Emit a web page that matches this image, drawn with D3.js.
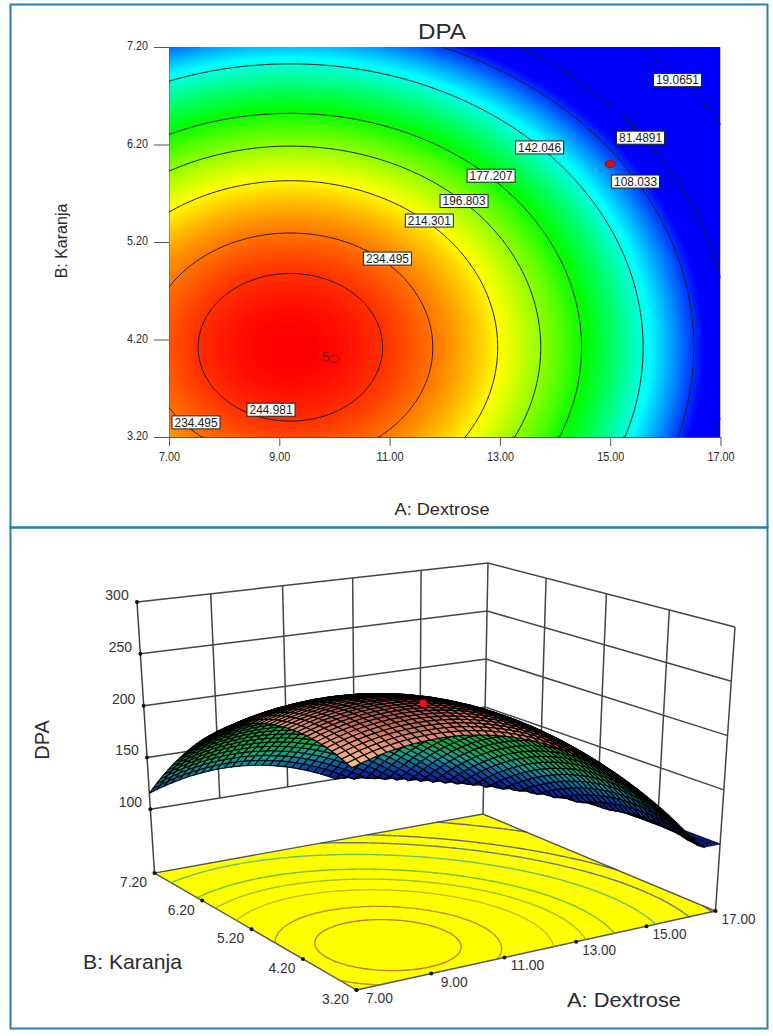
<!DOCTYPE html>
<html><head><meta charset="utf-8">
<script src="https://cdn.jsdelivr.net/npm/d3@7"></script>
<style>html,body{margin:0;padding:0;background:#fff}svg{display:block}
text{font-family:"Liberation Sans",Arial,sans-serif;fill:#2b2b2b}</style>
</head><body><script>
// ---- data ----
const dextroseTicks = [7, 9, 11, 13, 15, 17];
const karanjaTicks = [3.2, 4.2, 5.2, 6.2, 7.2];
const dpaTicks = [100, 150, 200, 250, 300];
// DPA response read at each (Dextrose, Karanja) tick crossing
const dpaAtKaranja320 = [228.4, 241.3, 232.7, 202.5, 150.6, 77.2];
const dpaAtKaranja420 = [239.4, 252.3, 243.7, 213.4, 161.6, 88.2];
const dpaAtKaranja520 = [224.2, 237.1, 228.5, 198.3, 146.4, 73.0];
const dpaAtKaranja620 = [182.9, 195.8, 187.2, 157.0, 105.1, 31.7];
const dpaAtKaranja720 = [115.4, 128.4, 119.8, 89.5, 37.7, -35.8];
const contourLevels = [19.0651, 81.4891, 108.033, 142.046, 177.207, 196.803, 214.301, 234.495, 244.981];
const contourLabels = ["19.0651", "81.4891", "108.033", "142.046", "177.207", "196.803", "214.301", "234.495", "244.981", "234.495"];
const labelDextrose = [16.22, 15.55, 15.46, 13.72, 12.84, 12.35, 11.72, 10.96, 8.85, 7.49];
const labelKaranja = [6.86, 6.27, 5.82, 6.17, 5.88, 5.62, 5.42, 5.03, 3.48, 3.35];
const designDextrose = [15, 10];
const designKaranja = [6, 4];
const designRuns = [1, 5];
const surfacePointZ = 252;

const dpaRows = [dpaAtKaranja320, dpaAtKaranja420, dpaAtKaranja520, dpaAtKaranja620, dpaAtKaranja720];

// ---- interpolation through the tick-crossing readings ----
function cr(p, t) {
  const n = p.length, i = Math.max(0, Math.min(n - 2, Math.floor(t))), s = t - i;
  const g = k => k < 0 ? 3 * p[0] - 3 * p[1] + p[2] : k >= n ? 3 * p[n - 1] - 3 * p[n - 2] + p[n - 3] : p[k];
  const a = g(i - 1), b = g(i), c = g(i + 1), d = g(i + 2);
  return 0.5 * (2 * b + (c - a) * s + (2 * a - 5 * b + 4 * c - d) * s * s + (3 * b - a - 3 * c + d) * s * s * s);
}
const tA = d3.scaleLinear().domain(d3.extent(dextroseTicks)).range([0, dextroseTicks.length - 1]);
const tB = d3.scaleLinear().domain(d3.extent(karanjaTicks)).range([0, karanjaTicks.length - 1]);
function dpa(A, B) {
  const ta = tA(A), tb = tB(B);
  return cr(dpaRows.map(r => cr(r, ta)), tb);
}

const rainbow = d3.scaleLinear().domain([100, 137.5, 175, 213, 252])
  .range(["#0000ff", "#00ffff", "#00ff00", "#ffff00", "#ff0000"]).clamp(true);

const W = 773, H = 1036;
const svg = d3.select("body").append("svg").attr("width", W).attr("height", H);
const defs = svg.append("defs");
defs.append("filter").attr("id", "soft").attr("x", "-5%").attr("y", "-5%").attr("width", "110%").attr("height", "110%")
  .append("feGaussianBlur").attr("stdDeviation", 0.45);
defs.append("filter").attr("id", "soft2").attr("x", "-5%").attr("y", "-5%").attr("width", "110%").attr("height", "110%")
  .append("feGaussianBlur").attr("stdDeviation", 0.3);

// frames
const frameColor = "#2a7fb0";
svg.append("rect").attr("x", 10.5).attr("y", 4.5).attr("width", 757).attr("height", 523)
  .attr("fill", "none").attr("stroke", frameColor).attr("stroke-width", 2);
svg.append("rect").attr("x", 10.5).attr("y", 527.5).attr("width", 757).attr("height", 501)
  .attr("fill", "none").attr("stroke", frameColor).attr("stroke-width", 2);

// common sampled grid
const nx = 221, ny = 161;
const gA = d3.scaleLinear().domain([0, nx - 1]).range(d3.extent(dextroseTicks));
const gB = d3.scaleLinear().domain([0, ny - 1]).range(d3.extent(karanjaTicks));
const gridVals = new Float64Array(nx * ny);
for (let j = 0; j < ny; j++) for (let i = 0; i < nx; i++) gridVals[j * nx + i] = dpa(gA(i), gB(j));
const contourGen = d3.contours().size([nx, ny]).smooth(true);
const toData = ([cx, cy]) => [gA(Math.max(0, Math.min(nx - 1, cx - 0.5))), gB(Math.max(0, Math.min(ny - 1, cy - 0.5)))];
const onBorder = ([x, y]) => x <= 0 || x >= nx || y <= 0 || y >= ny;
function contourLines(level) {   // open polylines in data coordinates, with the border runs removed
  const out = [];
  contourGen.contour(gridVals, level).coordinates.forEach(poly => poly.forEach(ring => {
    let cur = null;
    for (let k = 0; k < ring.length; k++) {
      const p = ring[k], q = ring[(k + 1) % ring.length];
      if (onBorder(p) && onBorder(q)) { cur = null; continue; }
      if (!cur) { cur = [toData(p)]; out.push(cur); }
      cur.push(toData(q));
    }
  }));
  return out;
}

// ================= top panel: contour plot =================
const x2 = d3.scaleLinear().domain(d3.extent(dextroseTicks)).range([169, 720.5]);
const y2 = d3.scaleLinear().domain(d3.extent(karanjaTicks)).range([437, 47]);
const topP = svg.append("g");
defs.append("clipPath").attr("id", "plotClip").append("rect")
  .attr("x", x2.range()[0]).attr("y", y2.range()[1])
  .attr("width", x2.range()[1] - x2.range()[0]).attr("height", y2.range()[0] - y2.range()[1]);
const fillPath = d3.geoPath(d3.geoTransform({
  point(cx, cy) { const [a, b] = toData([cx, cy]); this.stream.point(x2(a), y2(b)); }
}));
const fillLevels = d3.range(100, 254, 0.6);
const heat = topP.append("g").attr("clip-path", "url(#plotClip)");
heat.append("rect").attr("x", x2(7)).attr("y", y2(7.2)).attr("width", x2(17) - x2(7)).attr("height", y2(3.2) - y2(7.2))
  .attr("fill", rainbow(100));
heat.selectAll("path.f").data(fillLevels.map(l => contourGen.contour(gridVals, l))).join("path")
  .attr("class", "f").attr("d", fillPath).attr("fill", d => rainbow(d.value));

const line2 = d3.line().x(d => x2(d[0])).y(d => y2(d[1]));
const lineGroup = topP.append("g").attr("clip-path", "url(#plotClip)").attr("filter", "url(#soft2)");
contourLevels.forEach(l => {
  lineGroup.selectAll(null).data(contourLines(l)).join("path")
    .attr("d", line2).attr("fill", "none").attr("stroke", "#1c1c1c").attr("stroke-width", 1);
});

// axes
const axX = d3.axisBottom(x2).tickValues(dextroseTicks).tickFormat(d3.format(".2f")).tickSize(9).tickPadding(6).tickSizeOuter(0);
const axY = d3.axisLeft(y2).tickValues(karanjaTicks).tickFormat(d3.format(".2f")).tickSize(15).tickPadding(6).tickSizeOuter(0);
const gx = topP.append("g").attr("transform", "translate(0,437)").call(axX);
const gy = topP.append("g").attr("transform", "translate(169,0)").call(axY);
[gx, gy].forEach(g => {
  g.selectAll("text").attr("font-size", 13).attr("fill", "#333")
    .attr("textLength", d => d3.format(".2f")(d).length > 4 ? 27 : 21).attr("lengthAdjust", "spacingAndGlyphs");
  g.selectAll("line").attr("stroke", "#555");
  g.select(".domain").attr("stroke", "#555");
});
gy.select(".domain").attr("stroke-opacity", 0.5);
gy.selectAll("text").attr("dy", "0.2em");

// design points
const dp = topP.append("g");
dp.selectAll("ellipse").data(d3.range(designDextrose.length)).join("ellipse")
  .attr("cx", i => x2(designDextrose[i])).attr("cy", i => y2(designKaranja[i]))
  .attr("rx", 5).attr("ry", 3.5).attr("stroke", "#8a1010").attr("stroke-width", 1)
  .attr("fill", i => designRuns[i] > 1 ? "none" : "#e00c0c");
dp.selectAll("text").data(d3.range(designDextrose.length).filter(i => designRuns[i] > 1)).join("text")
  .attr("x", i => x2(designDextrose[i]) - 5).attr("y", i => y2(designKaranja[i]) + 3).attr("text-anchor", "end")
  .attr("font-size", 14).style("fill", "#7a1414").text(i => designRuns[i]);

// contour labels
const lab = topP.append("g").selectAll("g").data(contourLabels).join("g")
  .attr("transform", (d, i) => `translate(${x2(labelDextrose[i])},${y2(labelKaranja[i])})`);
lab.append("rect").attr("x", -24).attr("y", -6.5).attr("width", 48).attr("height", 13)
  .attr("fill", "#fff").attr("stroke", "#222").attr("stroke-width", 1);
lab.append("text").attr("text-anchor", "middle").attr("y", 4.2).attr("font-size", 12).style("fill", "#222")
  .attr("textLength", 43).attr("lengthAdjust", "spacingAndGlyphs").text(d => d);

// titles
topP.append("text").attr("x", 442).attr("y", 39).attr("text-anchor", "middle").attr("font-size", 22)
  .attr("textLength", 48).attr("lengthAdjust", "spacingAndGlyphs").text("DPA");
topP.append("text").attr("x", 442).attr("y", 515).attr("text-anchor", "middle").attr("font-size", 16)
  .attr("textLength", 95).attr("lengthAdjust", "spacingAndGlyphs").text("A: Dextrose");
topP.append("text").attr("transform", "translate(67,241) rotate(-90)").attr("text-anchor", "middle").attr("font-size", 16).text("B: Karanja");

// ================= bottom panel: 3D surface =================
const bot = svg.append("g");
const uOf = d3.scaleLinear().domain(d3.extent(dextroseTicks)).range([0, 1]);
const vOf = d3.scaleLinear().domain(d3.extent(karanjaTicks)).range([0, 1]);
const wOf = d3.scaleLinear().domain([38.5, 300]).range([0, 1]);

function homography(q) {
  const [[x0, y0], [x1, y1], [x2_, y2_], [x3, y3]] = q;
  const dx1 = x1 - x2_, dx2 = x3 - x2_, sx = x0 - x1 + x2_ - x3;
  const dy1 = y1 - y2_, dy2 = y3 - y2_, sy = y0 - y1 + y2_ - y3;
  const den = dx1 * dy2 - dx2 * dy1;
  const g = (sx * dy2 - dx2 * sy) / den, h = (dx1 * sy - sx * dy1) / den;
  const a = x1 - x0 + g * x1, b = x3 - x0 + h * x3, c = x0;
  const d = y1 - y0 + g * y1, e = y3 - y0 + h * y3, f = y0;
  return (u, v) => { const w = g * u + h * v + 1; return [(a * u + b * v + c) / w, (d * u + e * v + f) / w]; };
}
function blendedView(q) {   // half perspective, half parallel: the picture's ticks are almost evenly spaced
  const hom = homography(q);
  return (u, v) => {
    const p = hom(u, v);
    return [0, 1].map(k => 0.5 * p[k] +
      0.5 * ((1 - u) * (1 - v) * q[0][k] + u * (1 - v) * q[1][k] + u * v * q[2][k] + (1 - u) * v * q[3][k]));
  };
}
// camera frame of the box: front, right, back, left corners of floor and ceiling
const floorH = blendedView([[356.5, 990], [715.5, 911], [483, 814], [154.5, 873]]);
const ceilH = blendedView([[350, 684], [735, 627], [488, 563], [137, 602]]);
function proj(A, B, Z) {
  const u = uOf(A), v = vOf(B), w = wOf(Z);
  const f = floorH(u, v), c = ceilH(u, v);
  return [f[0] + (c[0] - f[0]) * w, f[1] + (c[1] - f[1]) * w];
}
const floorPt = (A, B) => proj(A, B, wOf.domain()[0]);
const seg = d3.line();
const Amin = 7, Amax = 17, Bmin = 3.2, Bmax = 7.2, Ztop = 300, Zfloor = wOf.domain()[0];

// walls
const wallColor = "#444";
const walls = bot.append("g").attr("filter", "url(#soft2)").attr("stroke", wallColor).attr("stroke-width", 1.5).attr("fill", "none");
const wallLines = [];
dpaTicks.forEach(z => wallLines.push([proj(Amin, Bmax, z), proj(Amax, Bmax, z), proj(Amax, Bmin, z)]));
dextroseTicks.slice(1, -1).forEach(a => wallLines.push([proj(a, Bmax, 100), proj(a, Bmax, Ztop)]));
karanjaTicks.slice(1, -1).forEach(b => wallLines.push([proj(Amax, b, 100), proj(Amax, b, Ztop)]));
wallLines.push([proj(Amin, Bmax, Zfloor), proj(Amin, Bmax, Ztop)]);
wallLines.push([proj(Amax, Bmax, Zfloor), proj(Amax, Bmax, Ztop)]);
wallLines.push([proj(Amax, Bmin, Zfloor), proj(Amax, Bmin, Ztop)]);
walls.selectAll("path").data(wallLines).join("path").attr("d", seg);

// floor
bot.append("path").attr("d", seg([floorPt(Amin, Bmin), floorPt(Amax, Bmin), floorPt(Amax, Bmax), floorPt(Amin, Bmax)]) + "Z")
  .attr("fill", "#ffff00").attr("stroke", "#555").attr("stroke-width", 1.4);
const floorLine = d3.line().x(d => floorPt(d[0], d[1])[0]).y(d => floorPt(d[0], d[1])[1]);
const floorG = bot.append("g").attr("filter", "url(#soft2)");
contourLevels.forEach(l => {
  floorG.selectAll(null).data(contourLines(l)).join("path").attr("d", floorLine).attr("fill", "none")
    .attr("stroke", d3.interpolateRgb(rainbow(l), "#4d4d4d")(0.5)).attr("stroke-opacity", 0.7).attr("stroke-width", 1.4);
});

// surface mesh
const meshN = 46;
const meshA = d3.scaleLinear().domain([0, meshN]).range([Amin, Amax]);
const meshB = d3.scaleLinear().domain([0, meshN]).range([Bmin, Bmax]);
const heightAt = (a, b) => Math.max(100, dpa(a, b));
const shoelace = p => d3.polygonArea(p);
const topSign = Math.sign(shoelace([floorPt(Amin, Bmin), floorPt(Amax, Bmin), floorPt(Amax, Bmax), floorPt(Amin, Bmax)]));
const camera = [-1.3, -1.3, 1.0];
const cells = [];
for (let i = 0; i < meshN; i++) for (let j = 0; j < meshN; j++) {
  const corners = [[i, j], [i + 1, j], [i + 1, j + 1], [i, j + 1]].map(([p, q]) => [meshA(p), meshB(q)]);
  const zs = corners.map(c => heightAt(c[0], c[1]));
  const poly = corners.map((c, k) => proj(c[0], c[1], zs[k]));
  const u = d3.mean(corners, c => uOf(c[0])), v = d3.mean(corners, c => vOf(c[1])), w = wOf(d3.mean(zs));
  const dist = Math.hypot(u - camera[0], v - camera[1], (w - camera[2]) * 0.8);
  const area = shoelace(poly);
  cells.push({ poly, z: d3.mean(zs), a: d3.mean(corners, c => c[0]), dist, area: Math.abs(area), up: Math.sign(area) === topSign });
}
cells.sort((a, b) => b.dist - a.dist);
const topColor = d3.scaleLinear().domain([100, 175, 215, 230, 242, 253])
  .range(["#000c90", "#208040", "#b86844", "#f6c08c", "#de8a74", "#a84e48"]).clamp(true);
const warmShift = d3.scaleLinear().domain([9.5, 12.5]).range([0, 0.6]).clamp(true);
const grazing = d3.scaleLinear().domain([4, 14]).range([2.2, 1.15]).clamp(true);
const underColor = d3.scaleLinear().domain([100, 115, 135, 155, 215])
  .range(["#06148a", "#0a3ea0", "#149c9c", "#18a848", "#16a040"]).clamp(true);
bot.append("g").attr("filter", "url(#soft)").selectAll("path").data(cells).join("path")
  .attr("d", d => seg(d.poly) + "Z")
  .attr("fill", d => d.up ? (d.z > 200 ? d3.interpolateRgb(topColor(d.z), "#e84424")(warmShift(d.a)) : "#06148a") : underColor(d.z))
  .attr("stroke", "#000").attr("stroke-width", d => d.z <= 100.5 && d.up ? 0.4 : grazing(d.area)).attr("stroke-opacity", 0.95);

// surface design point
const sp = proj(designDextrose[1], designKaranja[1], surfacePointZ);
bot.append("circle").attr("cx", sp[0]).attr("cy", sp[1]).attr("r", 3.8).attr("fill", "#ee1111");

// tick dots
const dots = [];
dextroseTicks.forEach(a => dots.push(floorPt(a, Bmin)));
karanjaTicks.forEach(b => dots.push(floorPt(Amin, b)));
dpaTicks.forEach(z => dots.push(proj(Amin, Bmax, z)));
bot.append("g").selectAll("circle").data(dots).join("circle")
  .attr("cx", d => d[0]).attr("cy", d => d[1]).attr("r", 2).attr("fill", "#111");

// tick labels
const f2 = d3.format(".2f");
const tl = d => f2(d).length > 4 ? 34 : 27;
bot.append("g").selectAll("text").data(dextroseTicks).join("text")
  .attr("x", a => floorPt(a, Bmin)[0] + 23).attr("y", a => floorPt(a, Bmin)[1] + 13)
  .attr("text-anchor", "middle").attr("font-size", 15).style("fill", "#333")
  .attr("textLength", tl).attr("lengthAdjust", "spacingAndGlyphs").text(f2);
bot.append("g").selectAll("text").data(karanjaTicks).join("text")
  .attr("x", b => floorPt(Amin, b)[0] - 21).attr("y", b => floorPt(Amin, b)[1] + 14)
  .attr("text-anchor", "middle").attr("font-size", 15).style("fill", "#333")
  .attr("textLength", tl).attr("lengthAdjust", "spacingAndGlyphs").text(f2);
bot.append("g").selectAll("text").data(dpaTicks).join("text")
  .attr("x", z => proj(Amin, Bmax, z)[0] - 20).attr("y", z => proj(Amin, Bmax, z)[1] - 2)
  .attr("text-anchor", "middle").attr("font-size", 14).style("fill", "#333").text(d => d);

bot.append("text").attr("transform", "translate(49,740) rotate(-90)").attr("text-anchor", "middle").attr("font-size", 20).text("DPA");
bot.append("text").attr("x", 83).attr("y", 969).attr("font-size", 21).attr("textLength", 99).attr("lengthAdjust", "spacingAndGlyphs").text("B: Karanja");
bot.append("text").attr("x", 567).attr("y", 1007).attr("font-size", 21).attr("textLength", 114).attr("lengthAdjust", "spacingAndGlyphs").text("A: Dextrose");
</script></body></html>
